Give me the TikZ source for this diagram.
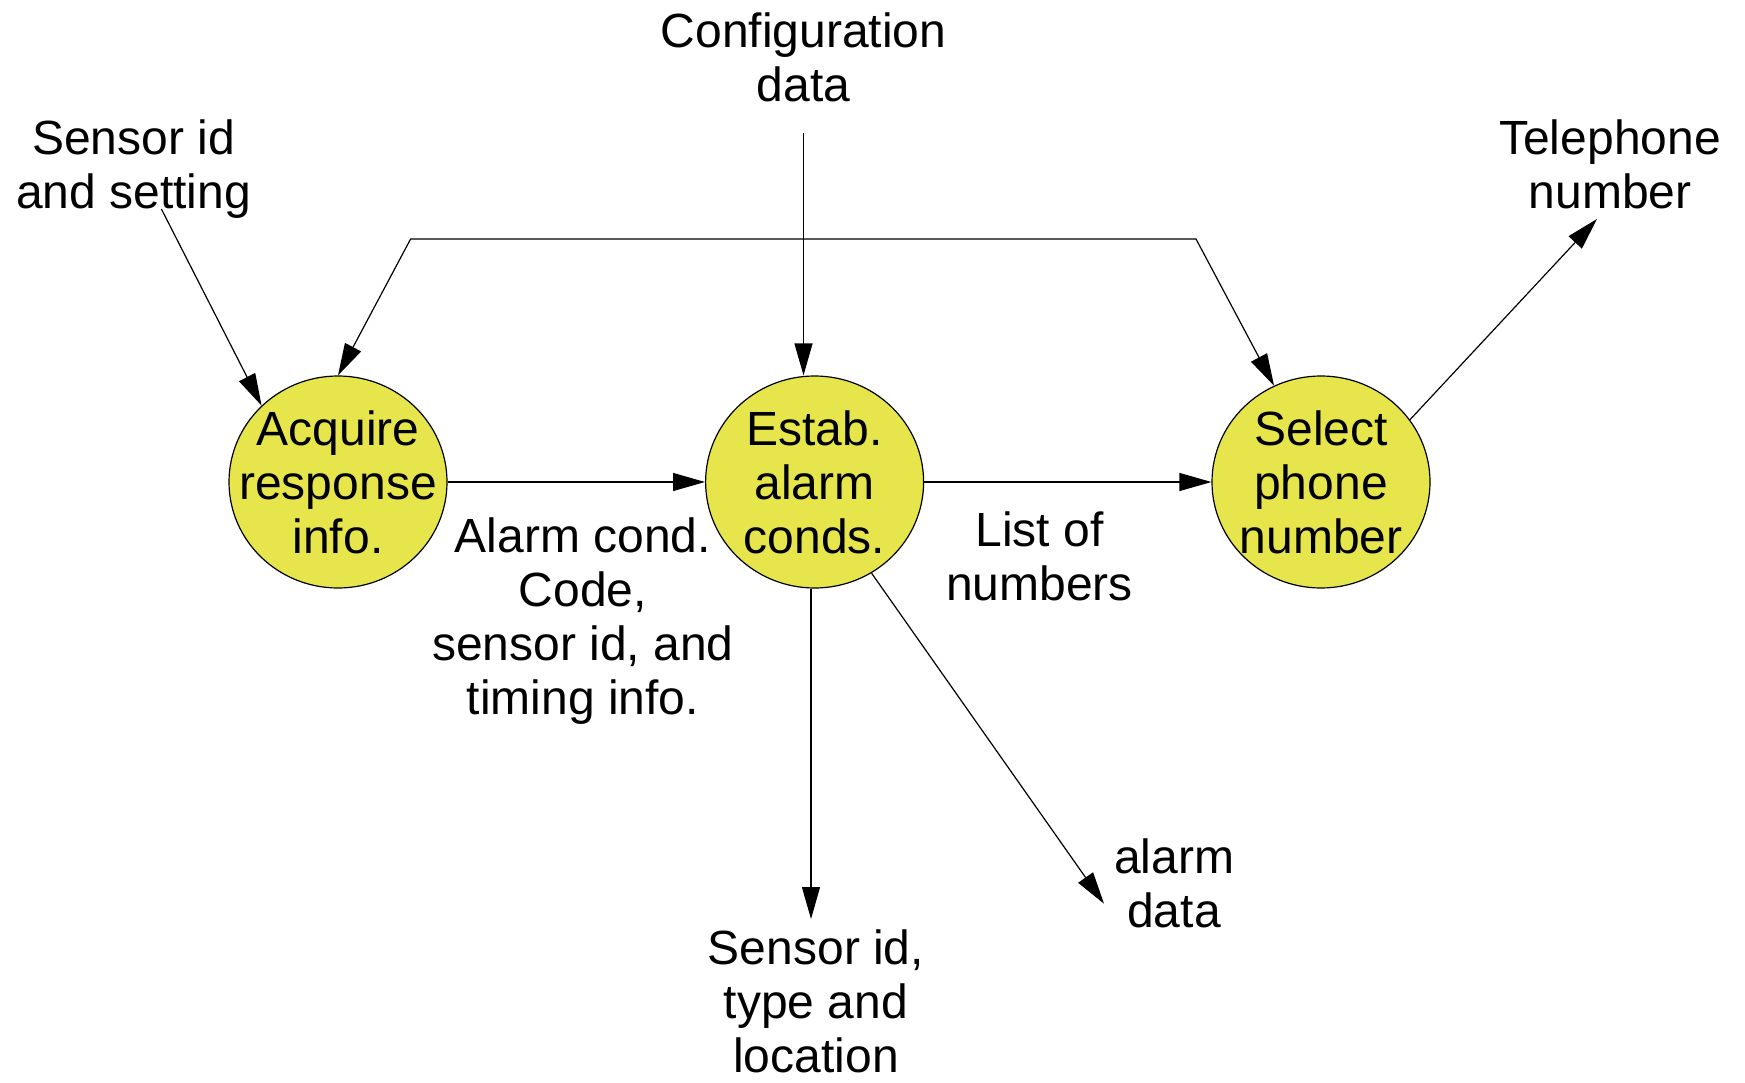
\documentclass[tikz,border=0pt]{standalone}
\usepackage{fontspec}
\setmainfont{Liberation Sans}
\usetikzlibrary{arrows.meta,shapes.geometric}
\definecolor{procfill}{RGB}{230,230,76}
\tikzset{
  proc/.style={ellipse, draw=black, line width=1.2pt, fill=procfill,
    minimum width=218pt, minimum height=212pt, inner sep=0pt},
  txt/.style={align=center, inner sep=0pt,
    font=\fontsize{48}{54}\selectfont},
  flow/.style={line width=1.2pt, -{Triangle[length=32pt,width=18pt]}},
  bothflow/.style={line width=1.2pt,
    {Triangle[length=32pt,width=18pt]}-{Triangle[length=32pt,width=18pt]}}
}
\begin{document}
\begin{tikzpicture}[x=1pt,y=-1pt]
\useasboundingbox (0,0) rectangle (1745,1083);

% processes
\node[proc] (acq) at (338,482) {};
\node[txt] at (acq) {Acquire\\response\\info.};
\node[proc] (est) at (814.6,482) {};
\node[txt] at (est) {Estab.\\alarm\\conds.};
\node[proc] (sel) at (1321,482) {};
\node[txt] at (sel) {Select\\phone\\number};

% external data labels
\node[txt] (cfg) at (803.5,57.5) {Configuration\\data};
\node[txt] (sens) at (133.5,169.5) {Sensor id\\and setting};
\node[txt] (tel) at (1610,164.5) {Telephone\\number};
\node[txt] (acode) at (583,621.5) {Alarm cond.\\Code,\\sensor id, and\\timing info.};
\node[txt] (lnum) at (1039.5,556.5) {List of\\numbers};
\node[txt] (sloc) at (816,1001) {Sensor id,\\type and\\location};
\node[txt] (adata) at (1174,883.5) {alarm\\data};

% connector end points
\coordinate (cfgS) at (803.5,133.5);
\coordinate (sensS) at (161.4,209);
\coordinate (busL) at (410.6,239);
\coordinate (busR) at (1196,239);
\coordinate (telE) at (1597,219);
\coordinate (slocE) at (811,919);
\coordinate (adataE) at (1104,903.7);

% flows
\draw[flow] (cfgS) -- (cfgS |- est.north);
\draw[flow] (sensS) -- (acq.135);
\draw[bothflow] (acq.north) -- (busL) -- (busR) -- (sel.116);
\draw[flow] (acq.east) -- (est.west);
\draw[flow] (est.east) -- (sel.west);
\draw[flow] (sel.35) -- (telE);
\draw[flow] (slocE |- est.south) -- (slocE);
\draw[flow] (est.-58) -- (adataE);
\end{tikzpicture}
\end{document}
